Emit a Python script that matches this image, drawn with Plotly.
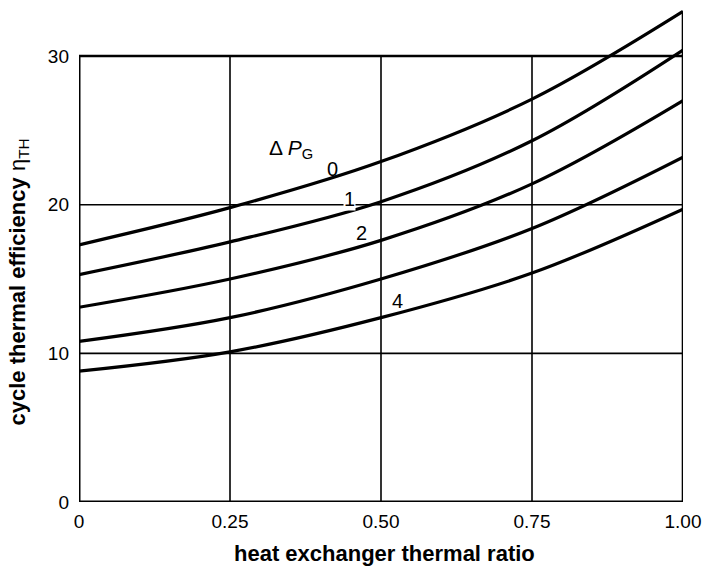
import plotly.graph_objects as go

# ---- data ----
x_ratio = [0.0, 0.25, 0.50, 0.75, 1.00]
eta_dp0 = [17.3, 19.8, 22.9, 27.1, 33.0]
eta_dp1 = [15.3, 17.5, 20.2, 24.3, 30.4]
eta_dp2 = [13.1, 15.0, 17.6, 21.4, 27.0]
eta_dp3 = [10.8, 12.4, 15.0, 18.4, 23.2]
eta_dp4 = [8.8, 10.1, 12.4, 15.4, 19.7]
series = [eta_dp0, eta_dp1, eta_dp2, eta_dp3, eta_dp4]

x_ticks = [0, 0.25, 0.50, 0.75, 1.00]
x_ticktext = ["0", "0.25", "0.50", "0.75", "1.00"]
y_ticks = [0, 10, 20, 30]
y_ticktext = ["0", "10", "20", "30"]

# curve labels (text, x, y)
curve_labels = [("0", 0.42, 22.4), ("1", 0.448, 20.4), ("2", 0.468, 18.1), ("4", 0.528, 13.5)]

fig = go.Figure()

# grid / frame drawn from tick lists
shapes = []
for xv in x_ticks:
    top = y_ticks[-1]
    w = 1.6
    if xv == x_ticks[0]:
        w = 3
    if xv == x_ticks[-1]:
        top = eta_dp0[-1]
        w = 2.6
    shapes.append(dict(type="line", xref="x", yref="y", x0=xv, x1=xv, y0=0, y1=top,
                       line=dict(color="black", width=w), layer="below"))
for yv in y_ticks:
    w = 1.6
    if yv == y_ticks[0]:
        w = 3.2
    if yv == y_ticks[-1]:
        w = 2.4
    shapes.append(dict(type="line", xref="x", yref="y", x0=x_ticks[0], x1=x_ticks[-1], y0=yv, y1=yv,
                       line=dict(color="black", width=w), layer="below"))

for s in series:
    fig.add_trace(go.Scatter(x=x_ratio, y=s, mode="lines",
                             line=dict(color="black", width=3.2, shape="spline", smoothing=1.0),
                             cliponaxis=False, hoverinfo="skip", showlegend=False))

annotations = []
annotations.append(dict(text="Δ <i>P</i><sub>G</sub>", x=0.351, y=23.75, xref="x", yref="y",
                        showarrow=False, font=dict(size=21, color="black", family="Arial")))
for t, xv, yv in curve_labels:
    ann = dict(text=t, x=xv, y=yv, xref="x", yref="y", showarrow=False,
               font=dict(size=20, color="black", family="Arial"))
    if t == "1":
        ann["bgcolor"] = "white"
        ann["borderpad"] = 0
    annotations.append(ann)

annotations.append(dict(text="<b>heat exchanger thermal ratio</b>", x=0.505, y=-0.103,
                        xref="paper", yref="paper", showarrow=False, xanchor="center", yanchor="middle",
                        font=dict(size=22, color="black", family="Arial")))
annotations.append(dict(text="<b>cycle thermal efficiency</b> η<sub>TH</sub>", x=-0.1, y=0.442,
                        xref="paper", yref="paper", showarrow=False, textangle=-90,
                        xanchor="center", yanchor="middle",
                        font=dict(size=22, color="black", family="Arial")))

fig.update_layout(
    width=704, height=569,
    margin=dict(l=79, r=21, t=4, b=67),
    paper_bgcolor="white", plot_bgcolor="white",
    shapes=shapes, annotations=annotations,
    xaxis=dict(range=[0, 1], tickvals=x_ticks, ticktext=x_ticktext, showgrid=False, zeroline=False,
               showline=False, ticks="", ticklabelstandoff=6,
               tickfont=dict(size=19, color="black", family="Arial")),
    yaxis=dict(range=[0, 33.5], tickvals=y_ticks, ticktext=y_ticktext, showgrid=False, zeroline=False,
               showline=False, ticks="", ticklabelstandoff=9,
               tickfont=dict(size=19, color="black", family="Arial")),
)

# remove the default page margin so the figure fills the window exactly
fig.write_html("out.html", config={"displayModeBar": False},
               post_script="document.body.style.margin='0';document.body.style.overflow='hidden';")
